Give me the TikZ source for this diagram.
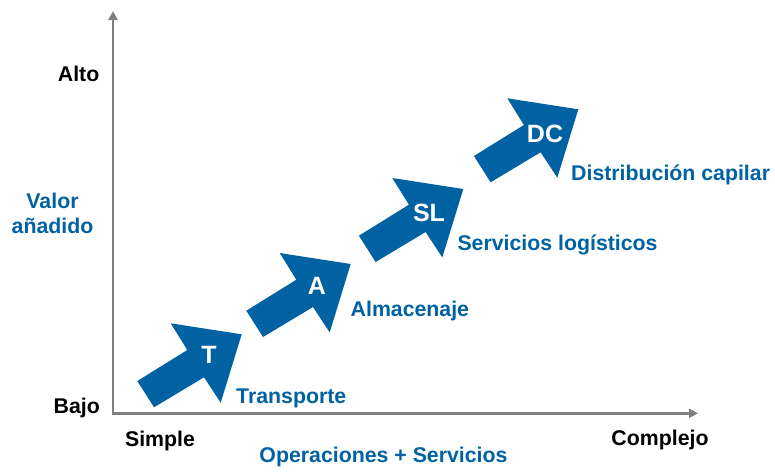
\documentclass[tikz,border=0pt]{standalone}
\usepackage{fontspec}
\setmainfont{Liberation Sans}
\usetikzlibrary{arrows.meta}
\definecolor{axisgray}{HTML}{7F7F7F}
\definecolor{mblue}{HTML}{0062A2}
\tikzset{
  axisline/.style={draw=axisgray, line width=2.4pt, -{Triangle[length=9pt,width=9pt]}},
  blacklbl/.style={inner sep=0pt, font=\fontsize{21.3}{25}\selectfont\bfseries, text=black},
  bluelbl/.style={inner sep=0pt, font=\fontsize{21.3}{25}\selectfont\bfseries, text=mblue},
  arrlbl/.style={inner sep=0pt, font=\fontsize{25}{30}\selectfont\bfseries, text=white},
  blockarrow/.pic={
    \fill[mblue] (-104.4,46.7) -- (-87.7,73) -- (-37.7,43) -- (-21,68.4) -- (0,0)
      -- (-71,-11) -- (-54.4,15.7) -- cycle;
  }
}
\begin{document}
\begin{tikzpicture}[x=1pt,y=-1pt]
\useasboundingbox (0,0) rectangle (775,472);
% axes
\coordinate (origin) at (113,413.3);
\coordinate (ytop) at (113,11);
\coordinate (xend) at (698,413.3);
\draw[axisline] ([yshift=-1.2pt]origin) -- (ytop);
\draw[axisline] ([xshift=-1.2pt]origin) -- (xend);
% block arrows
\pic at (241.7,334.3) {blockarrow};
\pic at (350.7,264) {blockarrow};
\pic at (463.3,189) {blockarrow};
\pic at (578.3,109.3) {blockarrow};
% labels inside arrows
\node[arrlbl] (lT) at (209,354.5) {T};
\node[arrlbl] (lA) at (317,286) {A};
\node[arrlbl] (lSL) at (429,213) {SL};
\node[arrlbl] (lDC) at (545,134) {DC};
% blue labels beside arrows
\node[bluelbl, anchor=base west] (trans) at (236,403) {Transporte};
\node[bluelbl, anchor=base west] (alma) at (350.5,316) {Almacenaje};
\node[bluelbl, anchor=base west] (serv) at (457.3,250) {Servicios logísticos};
\node[bluelbl, anchor=base west] (dist) at (571,180.5) {Distribución capilar};
% axis labels
\node[blacklbl, anchor=base east] (alto) at (99.5,81) {Alto};
\node[blacklbl, anchor=base east] (bajo) at (100,413) {Bajo};
\node[blacklbl, anchor=base] (simple) at (160,446.7) {Simple};
\node[blacklbl, anchor=base] (complejo) at (660,445.5) {Complejo};
\node[bluelbl, anchor=base] (valor1) at (52.5,208) {Valor};
\node[bluelbl, anchor=base] (valor2) at (52.5,233) {añadido};
\node[bluelbl, anchor=base] (oper) at (383.5,462) {Operaciones + Servicios};
\end{tikzpicture}
\end{document}
